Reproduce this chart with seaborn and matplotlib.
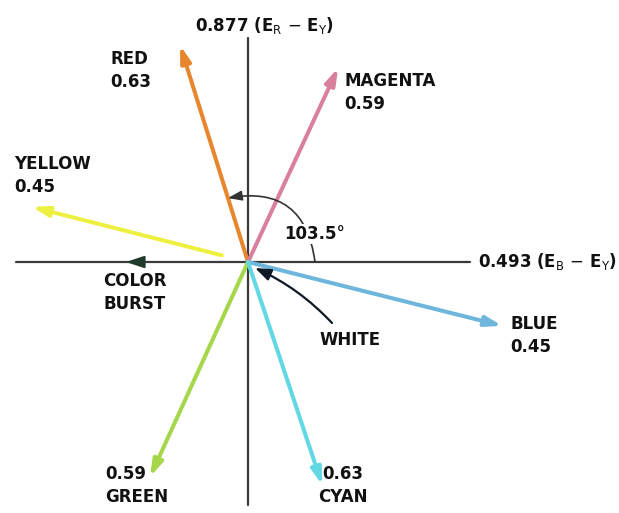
import numpy as np
import pandas as pd
import matplotlib
matplotlib.use("Agg")
import matplotlib.pyplot as plt
import seaborn as sns

# Phasor data (angles in degrees, drawn lengths in px-like units)
names = ["RED", "MAGENTA", "YELLOW", "BLUE", "GREEN", "CYAN"]
values = ["0.63", "0.59", "0.45", "0.45", "0.59", "0.63"]
angles = [107.4, 65.1, 165.7, -14.1, 245.5, 288.4]
lengths = [227, 214, 223, 262, 236, 235]
starts = [0, 0, 27, 0, 0, 0]
colors = ["#e8862e", "#d9809c", "#eef040", "#6fb6dc", "#a6d64a", "#62d8e4"]

arc_angle = 103.5

sns.set_theme(style="white")
plt.rcParams["font.family"] = ["DejaVu Sans"]
plt.rcParams["mathtext.fontset"] = "dejavusans"

fig = plt.figure(figsize=(6.19, 5.13), dpi=100)
ax = fig.add_axes([0, 0, 1, 1])
ax.set_xlim(-248, 371)
ax.set_ylim(-251, 262)
ax.axis("off")

# axes of the diagram
axes_df = pd.DataFrame({
    "x": [-232, 222, 0, 0],
    "y": [0, 0, -243, 224],
    "axis": ["h", "h", "v", "v"],
})
sns.lineplot(data=axes_df, x="x", y="y", hue="axis", palette=["#3a3a3a", "#3a3a3a"],
             linewidth=1.6, legend=False, ax=ax, sort=False, estimator=None)

# color vectors
for name, ang, ln, st, col in zip(names, angles, lengths, starts, colors):
    a = np.deg2rad(ang)
    tip = (ln * np.cos(a), ln * np.sin(a))
    base = (st * np.cos(a), st * np.sin(a))
    ax.annotate("", xy=tip, xytext=base,
                arrowprops=dict(arrowstyle="-|>,head_length=0.8,head_width=0.25",
                                color=col, lw=2.9, shrinkA=0, shrinkB=0))

# color burst arrowhead
ax.annotate("", xy=(-122, 0), xytext=(-104, 0),
            arrowprops=dict(arrowstyle="-|>,head_length=0.9,head_width=0.3",
                            color="#1f3a2a", lw=1.6, shrinkA=0, shrinkB=0))

# angle arc to red vector
r = 67
a_end = np.deg2rad(angles[0])
ax.annotate("", xy=(r * np.cos(a_end), r * np.sin(a_end)), xytext=(r, 0),
            arrowprops=dict(arrowstyle="-|>,head_length=0.7,head_width=0.25",
                            color="#333333", lw=1.2, shrinkA=0, shrinkB=0,
                            connectionstyle="arc3,rad=0.52"))

# white pointer
ax.annotate("", xy=(7, -6), xytext=(84, -61),
            arrowprops=dict(arrowstyle="-|>,head_length=0.8,head_width=0.3",
                            color="#101828", lw=1.6, shrinkA=0, shrinkB=0,
                            connectionstyle="arc3,rad=0.1"))

tk = dict(color="#111111", fontsize=12, fontweight="bold", linespacing=1.35)

ax.text(16, 237, r"0.877 (E$_\mathrm{R}$ $-$ E$_\mathrm{Y}$)", ha="center", va="center", **tk)
ax.text(230, 0, r"0.493 (E$_\mathrm{B}$ $-$ E$_\mathrm{Y}$)", ha="left", va="center", **tk)
ax.text(36, 28, f"{arc_angle}°", ha="left", va="center", zorder=5,
        bbox=dict(facecolor="white", edgecolor="none", pad=0.5), **tk)

ax.text(-138, 212, f"{names[0]}\n{values[0]}", ha="left", va="top", **tk)
ax.text(96, 190, f"{names[1]}\n{values[1]}", ha="left", va="top", **tk)
ax.text(-234, 107, f"{names[2]}\n{values[2]}", ha="left", va="top", **tk)
ax.text(262, -53, f"{names[3]}\n{values[3]}", ha="left", va="top", **tk)
ax.text(-143, -203, f"{values[4]}\n{names[4]}", ha="left", va="top", **tk)
ax.text(95, -203, f"{values[5]}\n{names[5]}", ha="center", va="top",
        multialignment="center", **tk)
ax.text(-113, -10, "COLOR\nBURST", ha="center", va="top",
        multialignment="center", **tk)
ax.text(72, -78, "WHITE", ha="left", va="center", **tk)

fig.savefig("out.png", dpi=100)
